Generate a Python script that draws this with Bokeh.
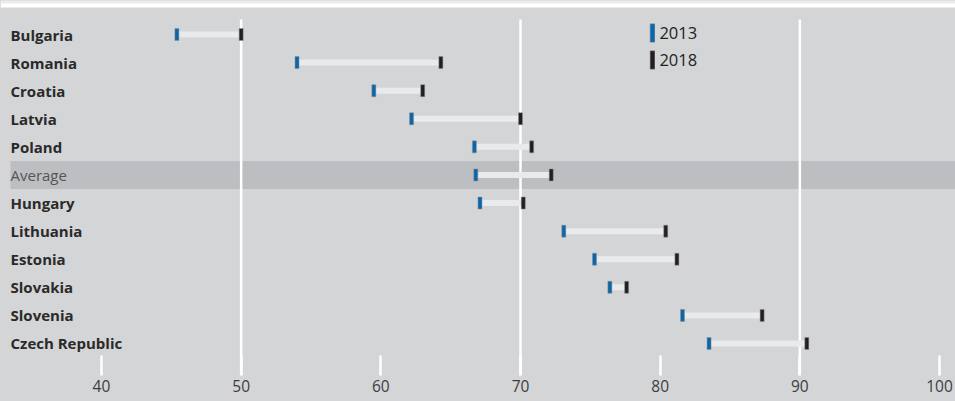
from bokeh.plotting import figure
from bokeh.models import Range1d, FixedTicker, Legend, LegendItem, BoxAnnotation
from bokeh.core.properties import value
from bokeh.embed import file_html
from bokeh.resources import INLINE

# ---- data ----
countries = ["Bulgaria", "Romania", "Croatia", "Latvia", "Poland", "Average",
             "Hungary", "Lithuania", "Estonia", "Slovakia", "Slovenia", "Czech Republic"]
v2013 = [45.4, 54.0, 59.5, 62.2, 66.7, 66.8, 67.1, 73.1, 75.3, 76.4, 81.6, 83.5]
v2018 = [50.0, 64.3, 63.0, 70.0, 70.8, 72.2, 70.2, 80.4, 81.2, 77.6, 87.3, 90.5]
tick_values = [40, 50, 60, 70, 80, 90, 100]
grid_values = [50, 70, 90]
highlight = "Average"

# ---- style ----
BG = "#d4d5d7"
BAND = "#bdbec1"
BLUE = "#0b67a9"
BLACK = "#231f20"
CONNECT = "#e9eaeb"
FONT = "Open Sans"

FRAME_W, FRAME_H = 955, 375
ROW = 28.09
x_lo, x_hi = 32.77, 101.145
y_top = -34 / ROW
y_bot = y_top + FRAME_H / ROW
px = (x_hi - x_lo) / FRAME_W
py = 1 / ROW

idx = list(range(len(countries)))

p = figure(frame_width=FRAME_W, frame_height=FRAME_H,
           x_range=Range1d(x_lo, x_hi), y_range=Range1d(y_bot, y_top),
           output_backend="svg", toolbar_location=None, y_axis_location=None,
           min_border=0, min_border_bottom=26, background_fill_color=BG,
           border_fill_color=BG, outline_line_color=None)
p.styles = {"background-color": BG}
p.xgrid.visible = False
p.ygrid.visible = False

# top strip
p.add_layout(BoxAnnotation(top=y_top, bottom=y_top + 7 * py, fill_color="white",
                           fill_alpha=1, line_color=None))
p.add_layout(BoxAnnotation(top=y_top, bottom=y_top + 3 * py, fill_color="#ebebec",
                           fill_alpha=1, line_color=None))

# highlight band
hi_i = countries.index(highlight)
p.hbar(y=[hi_i], left=[x_lo + 10 * px], right=[x_hi], height=1.0,
       fill_color=BAND, line_color=None)

# grid lines
p.segment(x0=grid_values, x1=grid_values, y0=[y_top + 19 * py] * len(grid_values),
          y1=[y_bot] * len(grid_values), line_color="white", line_width=2.5)

# connectors
p.segment(x0=v2013, x1=v2018, y0=idx, y1=idx, line_color=CONNECT,
          line_width=6, line_cap="butt")

r13 = p.rect(x=v2013, y=idx, width=4, height=12, width_units="screen",
             height_units="screen", fill_color=BLUE, line_color="#8e9092",
             line_alpha=0.5, line_width=1)
r18 = p.rect(x=v2018, y=idx, width=4, height=12, width_units="screen",
             height_units="screen", fill_color=BLACK, line_color="#8e9092",
             line_alpha=0.5, line_width=1)

# category labels
main_i = [i for i in idx if countries[i] != highlight]
p.text(x=[x_lo + 10 * px] * len(main_i), y=main_i,
       text=[countries[i] for i in main_i], text_align="left",
       text_baseline="middle", text_font=value(FONT), text_font_size="15px",
       text_font_style="bold", text_color="#2a2a2a")
p.text(x=[x_lo + 10 * px], y=[hi_i], text=[highlight], text_align="left",
       text_baseline="middle", text_font=value(FONT), text_font_size="15px",
       text_color="#555555")

# axis
ax = p.xaxis[0]
ax.ticker = FixedTicker(ticks=tick_values)
ax.major_tick_in = 20
ax.major_tick_out = 0
ax.major_tick_line_color = "white"
ax.major_tick_line_width = 2.5
ax.minor_tick_line_color = None
ax.axis_line_color = None
ax.major_label_text_font = FONT
ax.major_label_text_font_size = "15.5px"
ax.major_label_text_color = "#3d3d3d"
ax.major_label_standoff = 4

legend = Legend(items=[LegendItem(label="2013", renderers=[r13]),
                       LegendItem(label="2018", renderers=[r18])],
                location=(649.4, 304), orientation="vertical",
                glyph_width=6, glyph_height=23, label_height=23, spacing=4,
                padding=0, margin=0, border_line_color=None,
                background_fill_alpha=0, label_text_font=FONT,
                label_text_font_size="16.5px", label_text_color="#222222",
                label_standoff=4)
p.add_layout(legend)

open("out.html", "w").write(file_html(p, INLINE))
